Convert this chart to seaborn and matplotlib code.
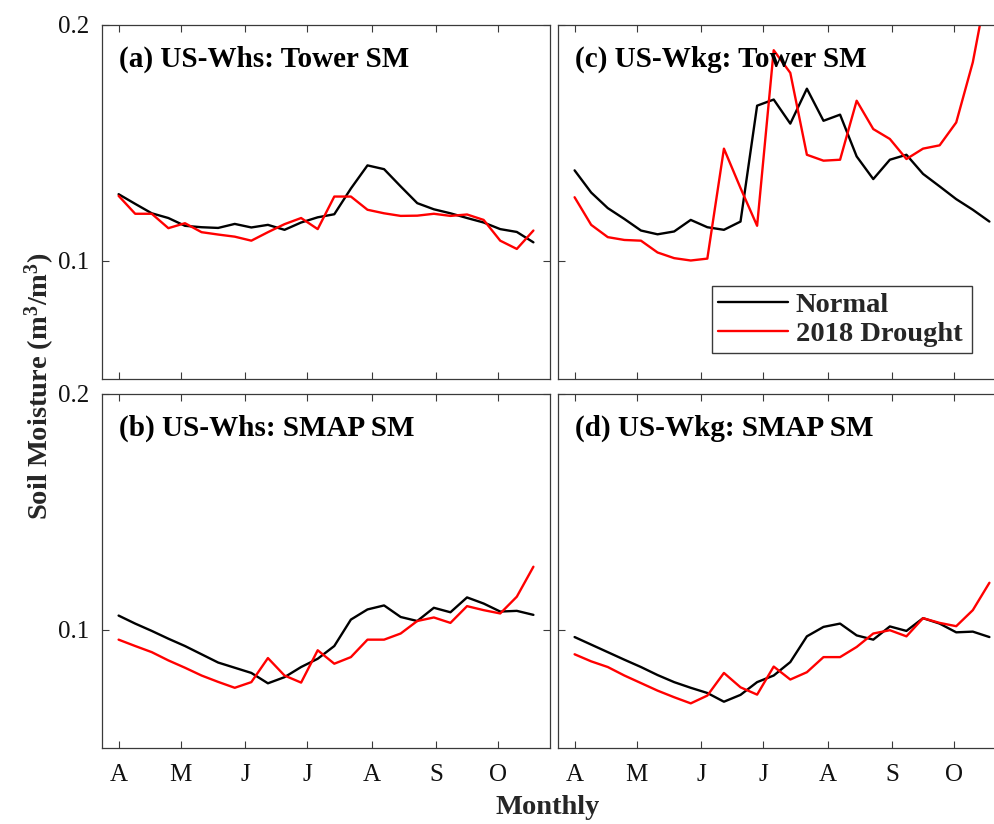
import numpy as np
import pandas as pd
import matplotlib
matplotlib.use("Agg")
import matplotlib.pyplot as plt
import seaborn as sns

# 8-day composites, day of year (1 Apr .. 18 Oct)
doy = [91 + 8 * k for k in range(26)]

# (a) US-Whs tower soil moisture
whs_tower_normal = [0.1281, 0.1240, 0.1200, 0.1180, 0.1147, 0.1141, 0.1138, 0.1155, 0.1140, 0.1151,
                    0.1130, 0.1161, 0.1183, 0.1196, 0.1305, 0.1403, 0.1387, 0.1314, 0.1243, 0.1217,
                    0.1200, 0.1180, 0.1161, 0.1133, 0.1121, 0.1077]
whs_tower_drought = [0.1274, 0.1198, 0.1198, 0.1137, 0.1158, 0.1120, 0.1110, 0.1101, 0.1084, 0.1120,
                     0.1154, 0.1180, 0.1133, 0.1271, 0.1271, 0.1215, 0.1200, 0.1189, 0.1190, 0.1198,
                     0.1189, 0.1195, 0.1172, 0.1084, 0.1049, 0.1127]

# (b) US-Whs SMAP soil moisture
whs_smap_normal = [0.1059, 0.1025, 0.0994, 0.0961, 0.0930, 0.0895, 0.0860, 0.0838, 0.0816, 0.0772,
                   0.0798, 0.0841, 0.0876, 0.0930, 0.1042, 0.1085, 0.1102, 0.1053, 0.1036, 0.1092,
                   0.1073, 0.1136, 0.1110, 0.1076, 0.1079, 0.1062]
whs_smap_drought = [0.0957, 0.0930, 0.0904, 0.0869, 0.0838, 0.0805, 0.0778, 0.0753, 0.0777, 0.0879,
                    0.0805, 0.0775, 0.0912, 0.0855, 0.0883, 0.0957, 0.0957, 0.0983, 0.1036, 0.1051,
                    0.1028, 0.1099, 0.1082, 0.1068, 0.1139, 0.1266]

# (c) US-Wkg tower soil moisture
wkg_tower_normal = [0.1382, 0.1288, 0.1222, 0.1176, 0.1127, 0.1111, 0.1123, 0.1172, 0.1141, 0.1130,
                    0.1165, 0.1656, 0.1682, 0.1580, 0.1728, 0.1592, 0.1618, 0.1441, 0.1345, 0.1427,
                    0.1448, 0.1367, 0.1314, 0.1260, 0.1215, 0.1165]
wkg_tower_drought = [0.1268, 0.1151, 0.1099, 0.1087, 0.1084, 0.1034, 0.1010, 0.1000, 0.1008, 0.1474,
                     0.1307, 0.1147, 0.1891, 0.1795, 0.1448, 0.1423, 0.1427, 0.1677, 0.1557, 0.1515,
                     0.1430, 0.1474, 0.1488, 0.1585, 0.1840, 0.2210]

# (d) US-Wkg SMAP soil moisture
wkg_smap_normal = [0.0968, 0.0936, 0.0904, 0.0872, 0.0841, 0.0807, 0.0777, 0.0753, 0.0731, 0.0694,
                   0.0723, 0.0777, 0.0805, 0.0862, 0.0971, 0.1011, 0.1025, 0.0975, 0.0957, 0.1013,
                   0.0994, 0.1048, 0.1025, 0.0988, 0.0991, 0.0968]
wkg_smap_drought = [0.0895, 0.0865, 0.0841, 0.0805, 0.0773, 0.0741, 0.0713, 0.0687, 0.0720, 0.0816,
                    0.0755, 0.0724, 0.0843, 0.0788, 0.0819, 0.0883, 0.0883, 0.0926, 0.0983, 0.0997,
                    0.0971, 0.1048, 0.1028, 0.1014, 0.1082, 0.1198]

month_ticks = [91, 121, 152, 182, 213, 244, 274]
month_labels = ["A", "M", "J", "J", "A", "S", "O"]
y_ticks = [0.1, 0.2]
y_tick_labels = ["0.1", "0.2"]
conditions = ["Normal", "2018 Drought"]
panel_titles = {
    "a": "(a) US-Whs: Tower SM",
    "b": "(b) US-Whs: SMAP SM",
    "c": "(c) US-Wkg: Tower SM",
    "d": "(d) US-Wkg: SMAP SM",
}
panel_series = {
    "a": (whs_tower_normal, whs_tower_drought),
    "b": (whs_smap_normal, whs_smap_drought),
    "c": (wkg_tower_normal, wkg_tower_drought),
    "d": (wkg_smap_normal, wkg_smap_drought),
}

frames = []
for key, (normal, drought) in panel_series.items():
    for cond, vals in zip(conditions, (normal, drought)):
        frames.append(pd.DataFrame({"doy": doy, "sm": vals, "condition": cond, "panel": key}))
df = pd.concat(frames, ignore_index=True)

sns.set_style("ticks")
plt.rcParams["font.family"] = ["Liberation Serif", "DejaVu Serif"]
plt.rcParams["mathtext.fontset"] = "custom"
plt.rcParams["mathtext.rm"] = "Liberation Serif:bold"
plt.rcParams["mathtext.bf"] = "Liberation Serif:bold"
plt.rcParams["mathtext.it"] = "Liberation Serif:bold"

W, H = 995, 824
fig = plt.figure(figsize=(W / 100, H / 100), dpi=100)

ax_w, ax_h = 448, 354
lefts = {"a": 102, "b": 102, "c": 558, "d": 558}
tops = {"a": 24.5, "c": 24.5, "b": 393.5, "d": 393.5}

palette = {"Normal": "black", "2018 Drought": "#ff0000"}
edge = "#3a3a3a"

axes = {}
for key in ["a", "b", "c", "d"]:
    l = lefts[key] / W
    b = 1 - (tops[key] + ax_h) / H
    ax = fig.add_axes([l, b, ax_w / W, ax_h / H])
    axes[key] = ax
    sub = df[df["panel"] == key]
    sns.lineplot(data=sub, x="doy", y="sm", hue="condition", hue_order=conditions,
                 palette=palette, linewidth=1.7, errorbar=None, sort=True,
                 legend=(key == "c"), ax=ax)
    ax.set_xlim(83, 299)
    ax.set_ylim(0.05, 0.2)
    ax.set_xticks(month_ticks)
    ax.set_yticks(y_ticks)
    ax.tick_params(direction="in", length=5, width=0.8, color=edge,
                   top=True, right=True, labelsize=18, labelcolor="#111111", pad=9)
    ax.tick_params(axis="x", pad=12)
    if key in ("b", "d"):
        ax.set_xticklabels(month_labels)
    else:
        ax.set_xticklabels([])
    if key in ("a", "b"):
        ax.set_yticklabels(y_tick_labels)
    else:
        ax.set_yticklabels([])
    ax.set_xlabel("")
    ax.set_ylabel("")
    for sp in ax.spines.values():
        sp.set_color(edge)
        sp.set_linewidth(0.9)
    ax.text(0.037, 0.882, panel_titles[key], transform=ax.transAxes, fontsize=21,
            fontweight="bold", va="baseline", ha="left", color="black")

leg = axes["c"].legend(loc="lower left", bbox_to_anchor=(0.344, 0.072, 0.58, 0.2),
                       mode="expand", fontsize=20.5, frameon=True, fancybox=False,
                       handlelength=2.45, handletextpad=0.28, borderpad=0.2,
                       labelspacing=0.12, borderaxespad=0)
for t in leg.get_texts():
    t.set_fontweight("bold")
leg.get_frame().set_edgecolor(edge)
leg.get_frame().set_linewidth(1.0)
leg.get_frame().set_alpha(1)
for h in leg.get_lines():
    h.set_linewidth(1.7)

fig.text(40 / W, 1 - 386 / H, "Soil Moisture (m$^3$/m$^3$)", rotation=90,
         ha="center", va="center", fontsize=20.5, fontweight="bold")
fig.text(548 / W, 1 - 808 / H, "Monthly", ha="center", va="center",
         fontsize=20.5, fontweight="bold")

fig.savefig("out.png", dpi=100)
